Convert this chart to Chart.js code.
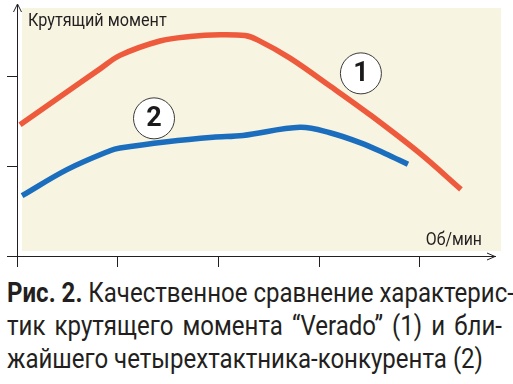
<!DOCTYPE html>
<html>
<head>
<meta charset="utf-8">
<script src="https://cdn.jsdelivr.net/npm/chart.js@4.4.1/dist/chart.umd.min.js"></script>
<style>
  html, body { margin:0; padding:0; background:#ffffff; width:513px; height:384px; overflow:hidden; }
  #wrap { position:relative; width:513px; height:384px; }
  #c { position:absolute; left:0; top:0; }
  #cap { position:absolute; left:7px; top:276px; font-family:Roboto, "Liberation Sans", sans-serif; font-size:28px; line-height:33px; color:#231f20; transform-origin:0 0; white-space:nowrap; }
  #cap .j { text-align:justify; text-align-last:justify; }
  #cap b { font-weight:700; }
</style>
</head>
<body>
<div id="wrap">
  <canvas id="c" width="513" height="270"></canvas>
  <div id="cap">
    <div class="j"><b>Рис. 2.</b> Качественное сравнение характерис-</div>
    <div class="j">тик крутящего момента “Verado” (1) и бли-</div>
    <div id="last"><span id="lastSpan">жайшего четырехтактника-конкурента (2)</span></div>
  </div>
</div>
<script>
// ---- data (rpm, torque; axes unlabeled, relative units) ----
const xTicks = [0, 1000, 2000, 3000, 4000];
const yTicks = [0, 100, 200];

const veradoRpm    = [30, 427, 824, 1022, 1419, 1717, 2015, 2263, 2392, 2710, 3107, 3504, 4000, 4407];
const veradoTorque = [146, 177, 208, 223, 239, 244, 246, 245, 240, 220, 189, 157, 114, 74];

const rivalRpm    = [50, 496, 923, 1022, 1489, 1945, 2243, 2809, 3107, 3404, 3653, 3881];
const rivalTorque = [67, 96, 117, 120, 127, 132, 134, 143, 137, 126, 114, 102];

const yTitle = 'Крутящий момент';
const xTitle = 'Об/мин';
const seriesTags = ['1', '2'];
const tagRpm = [3414, 1360];
const tagTorque = [203, 153];

const xMax = 4745;
const yMax = 279;

const ink = '#231f20';
const toPts = (xs, ys) => xs.map((x, i) => ({ x: x, y: ys[i] }));

function condensedText(ctx, text, x, y, align, sx) {
  ctx.save();
  ctx.translate(x, y);
  ctx.scale(sx, 1);
  ctx.textAlign = align;
  ctx.fillText(text, 0, 0);
  ctx.restore();
}

const decor = {
  id: 'decor',
  beforeDraw(chart) {
    const { ctx, chartArea: a } = chart;
    ctx.save();
    ctx.fillStyle = '#f8f4e2';
    ctx.fillRect(a.left + 5, a.top + 3, a.right + 6 - (a.left + 5), a.bottom - 5 - (a.top + 3));
    ctx.restore();
  },
  afterDatasetsDraw(chart) {
    const { ctx, chartArea: a, scales } = chart;
    ctx.save();
    // axis arrows
    ctx.strokeStyle = ink;
    ctx.lineWidth = 1;
    ctx.beginPath();
    ctx.moveTo(a.left - 3.5, a.top + 7);
    ctx.lineTo(a.left + 0.5, a.top - 1);
    ctx.lineTo(a.left + 4.5, a.top + 7);
    ctx.stroke();
    ctx.beginPath();
    ctx.moveTo(a.right - 8, a.bottom - 3);
    ctx.lineTo(a.right, a.bottom + 0.5);
    ctx.lineTo(a.right - 8, a.bottom + 4);
    ctx.stroke();
    // axis titles
    ctx.fillStyle = ink;
    ctx.font = '18px Roboto, "Liberation Sans", sans-serif';
    ctx.textBaseline = 'alphabetic';
    condensedText(ctx, yTitle, a.left + 11, a.top + 21, 'left', 0.9);
    condensedText(ctx, xTitle, a.right - 13, a.bottom - 11, 'right', 0.88);
    // series tags
    for (let i = 0; i < seriesTags.length; i++) {
      const px = scales.x.getPixelForValue(tagRpm[i]);
      const py = scales.y.getPixelForValue(tagTorque[i]);
      ctx.beginPath();
      ctx.arc(px, py, 20.5, 0, Math.PI * 2);
      ctx.fillStyle = '#ffffff';
      ctx.fill();
      ctx.strokeStyle = '#3a3a3a';
      ctx.lineWidth = 1;
      ctx.stroke();
      ctx.fillStyle = '#1a1a1a';
      ctx.font = 'bold 27px Roboto, "Liberation Sans", sans-serif';
      ctx.textAlign = 'center';
      ctx.textBaseline = 'middle';
      ctx.fillText(seriesTags[i], px, py + 1);
    }
    ctx.restore();
  }
};

const axisCommon = {
  border: { display: true, color: ink, width: 1 },
  grid: { display: true, drawOnChartArea: false, drawTicks: true, color: ink, lineWidth: 1 },
  ticks: { display: false }
};

new Chart(document.getElementById('c'), {
  type: 'line',
  data: {
    datasets: [
      { label: 'Verado (1)', data: toPts(veradoRpm, veradoTorque), borderColor: '#ee5a3c', borderWidth: 5.5, pointRadius: 0, tension: 0.35, borderCapStyle: 'butt', fill: false },
      { label: 'Конкурент (2)', data: toPts(rivalRpm, rivalTorque), borderColor: '#1b6ebd', borderWidth: 5.5, pointRadius: 0, tension: 0.35, borderCapStyle: 'butt', fill: false }
    ]
  },
  options: {
    responsive: false,
    animation: false,
    devicePixelRatio: 1,
    layout: { padding: { top: 5, right: 18, left: 0, bottom: 0 } },
    plugins: { legend: { display: false }, tooltip: { enabled: false } },
    scales: {
      x: Object.assign({}, axisCommon, {
        type: 'linear', min: 0, max: xMax,
        grid: Object.assign({}, axisCommon.grid, { tickLength: 11 }),
        afterBuildTicks: s => { s.ticks = xTicks.map(v => ({ value: v })); },
        afterFit: s => { s.height = 14; }
      }),
      y: Object.assign({}, axisCommon, {
        type: 'linear', min: 0, max: yMax,
        grid: Object.assign({}, axisCommon.grid, { tickLength: 10 }),
        afterBuildTicks: s => { s.ticks = yTicks.map(v => ({ value: v })); },
        afterFit: s => { s.width = 17; }
      })
    }
  },
  plugins: [decor]
});

// caption: condensed look via horizontal scaling
(function fitCaption() {
  const cap = document.getElementById('cap');
  const w = document.getElementById('lastSpan').getBoundingClientRect().width;
  const s = 476 / w;
  cap.style.width = (495 / s) + 'px';
  cap.style.transform = 'scaleX(' + s + ')';
})();
</script>
</body>
</html>
